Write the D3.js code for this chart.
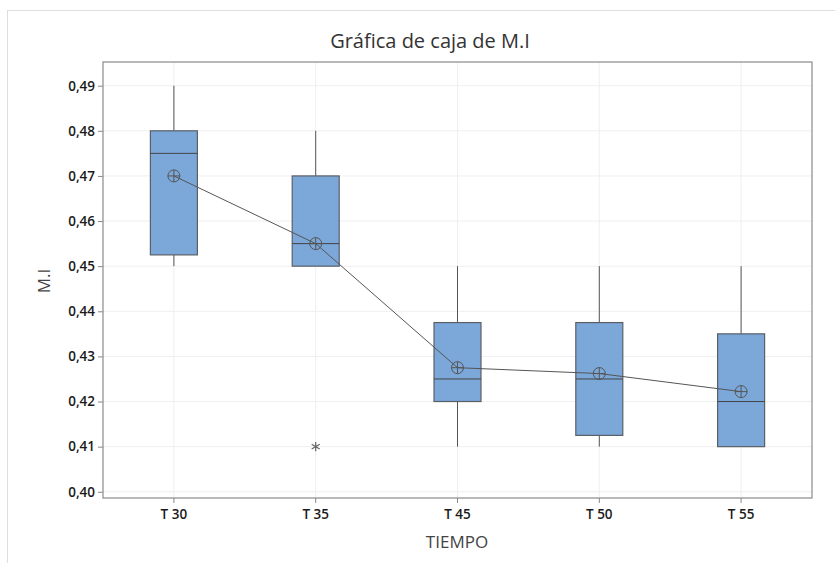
<!DOCTYPE html>
<html>
<head>
<meta charset="utf-8">
<script src="https://cdn.jsdelivr.net/npm/d3@7"></script>
<style>
  html, body { margin: 0; padding: 0; background: #fff; }
  svg { display: block; font-family: "Open Sans", "Noto Sans", sans-serif; }
</style>
</head>
<body>
<svg id="chart" width="835" height="563"></svg>
<script>
// Categories and summary statistics of M.I per time group
const categories = ["T 30", "T 35", "T 45", "T 50", "T 55"];
const whiskerLow  = [0.450, 0.450, 0.410, 0.410, 0.410];
const q1          = [0.4525, 0.450, 0.420, 0.4125, 0.410];
const median      = [0.475, 0.455, 0.425, 0.425, 0.420];
const q3          = [0.480, 0.470, 0.4375, 0.4375, 0.435];
const whiskerHigh = [0.490, 0.480, 0.450, 0.450, 0.450];
const means       = [0.470, 0.455, 0.4275, 0.4262, 0.4222];
// Outliers: [category, value]
const outliers    = [["T 35", 0.410]];
const yTicks      = [0.40, 0.41, 0.42, 0.43, 0.44, 0.45, 0.46, 0.47, 0.48, 0.49];

const FONT = '"Open Sans", "Noto Sans", sans-serif';
const svg = d3.select("#chart");
const plot = { left: 103, right: 812, top: 62, bottom: 498 };

// Outer frame
svg.append("rect")
  .attr("x", 7.5).attr("y", 10.5)
  .attr("width", 900).attr("height", 700)
  .attr("fill", "#fff").attr("stroke", "#dedede");

const x = d3.scaleBand().domain(categories)
  .range([plot.left, plot.right]).paddingInner(0).paddingOuter(0);
const y = d3.scaleLinear().domain([0.39862, 0.49525])
  .range([plot.bottom, plot.top]);
const cx = c => x(c) + x.bandwidth() / 2;
const boxW = 47;

const g = svg.append("g");

// Grid lines
g.append("g").selectAll("line").data(yTicks).join("line")
  .attr("x1", plot.left).attr("x2", plot.right)
  .attr("y1", d => y(d)).attr("y2", d => y(d))
  .attr("stroke", "#efefef").attr("stroke-width", 1);
g.append("g").selectAll("line").data(categories).join("line")
  .attr("x1", d => cx(d)).attr("x2", d => cx(d))
  .attr("y1", plot.top).attr("y2", plot.bottom)
  .attr("stroke", "#efefef").attr("stroke-width", 1);

// Axes
const yAxis = d3.axisLeft(y).tickValues(yTicks)
  .tickFormat(d => d3.format(".2f")(d).replace(".", ","))
  .tickSize(5).tickPadding(3);
const yG = svg.append("g").attr("transform", `translate(${plot.left},0)`).call(yAxis)
  .attr("font-family", FONT).attr("font-size", 13.5);
yG.select(".domain").remove();
yG.selectAll(".tick line").attr("stroke", "#888");
yG.selectAll(".tick text").attr("fill", "#1a1a1a").attr("font-weight", 600);

const xAxis = d3.axisBottom(x).tickSize(5).tickPadding(6);
const xG = svg.append("g").attr("transform", `translate(0,${plot.bottom})`).call(xAxis)
  .attr("font-family", FONT).attr("font-size", 13.5);
xG.select(".domain").remove();
xG.selectAll(".tick line").attr("stroke", "#888");
xG.selectAll(".tick text").attr("fill", "#1a1a1a").attr("font-weight", 600);

// Plot border
svg.append("rect")
  .attr("x", plot.left).attr("y", plot.top)
  .attr("width", plot.right - plot.left).attr("height", plot.bottom - plot.top)
  .attr("fill", "none").attr("stroke", "#8a8a8a").attr("stroke-width", 1.2);

// Box plots
const rows = categories.map((c, i) => ({
  c, lo: whiskerLow[i], q1: q1[i], med: median[i], q3: q3[i], hi: whiskerHigh[i], mean: means[i]
}));

const boxes = g.append("g").selectAll("g").data(rows).join("g");
boxes.append("line")
  .attr("x1", d => cx(d.c)).attr("x2", d => cx(d.c))
  .attr("y1", d => y(d.hi)).attr("y2", d => y(d.q3))
  .attr("stroke", "#555").attr("stroke-width", 1);
boxes.append("line")
  .attr("x1", d => cx(d.c)).attr("x2", d => cx(d.c))
  .attr("y1", d => y(d.q1)).attr("y2", d => y(d.lo))
  .attr("stroke", "#555").attr("stroke-width", 1);
boxes.append("rect")
  .attr("x", d => cx(d.c) - boxW / 2).attr("width", boxW)
  .attr("y", d => y(d.q3)).attr("height", d => y(d.q1) - y(d.q3))
  .attr("fill", "#7ba7d9").attr("stroke", "#5a5f66").attr("stroke-width", 1.2);
boxes.append("line")
  .attr("x1", d => cx(d.c) - boxW / 2).attr("x2", d => cx(d.c) + boxW / 2)
  .attr("y1", d => y(d.med)).attr("y2", d => y(d.med))
  .attr("stroke", "#444").attr("stroke-width", 1);

// Outliers (asterisk)
const star = d3.symbol().type(d3.symbolAsterisk).size(60);
g.append("g").selectAll("path").data(outliers).join("path")
  .attr("d", star)
  .attr("transform", d => `translate(${cx(d[0])},${y(d[1])})`)
  .attr("fill", "none").attr("stroke", "#666").attr("stroke-width", 1.2);

// Line connecting means
const line = d3.line().x(d => cx(d.c)).y(d => y(d.mean));
g.append("path").datum(rows)
  .attr("d", line).attr("fill", "none")
  .attr("stroke", "#555").attr("stroke-width", 1);

// Mean symbols: circle with cross
const meanG = g.append("g").selectAll("g").data(rows).join("g")
  .attr("transform", d => `translate(${cx(d.c)},${y(d.mean)})`);
meanG.append("circle").attr("r", 6)
  .attr("fill", "none").attr("stroke", "#555").attr("stroke-width", 1);
meanG.append("path").attr("d", "M-6,0H6M0,-6V6")
  .attr("stroke", "#555").attr("stroke-width", 1);

// Titles
svg.append("text")
  .attr("x", 430).attr("y", 48)
  .attr("text-anchor", "middle")
  .attr("font-size", 20).attr("font-weight", 500).attr("fill", "#333")
  .text("Gráfica de caja de M.I");

svg.append("text")
  .attr("x", 457).attr("y", 548)
  .attr("text-anchor", "middle")
  .attr("font-size", 17).attr("font-weight", 500).attr("fill", "#444")
  .text("TIEMPO");

svg.append("text")
  .attr("transform", "translate(50,281) rotate(-90)")
  .attr("text-anchor", "middle")
  .attr("font-size", 17).attr("font-weight", 500).attr("fill", "#444")
  .text("M.I");
</script>
</body>
</html>
